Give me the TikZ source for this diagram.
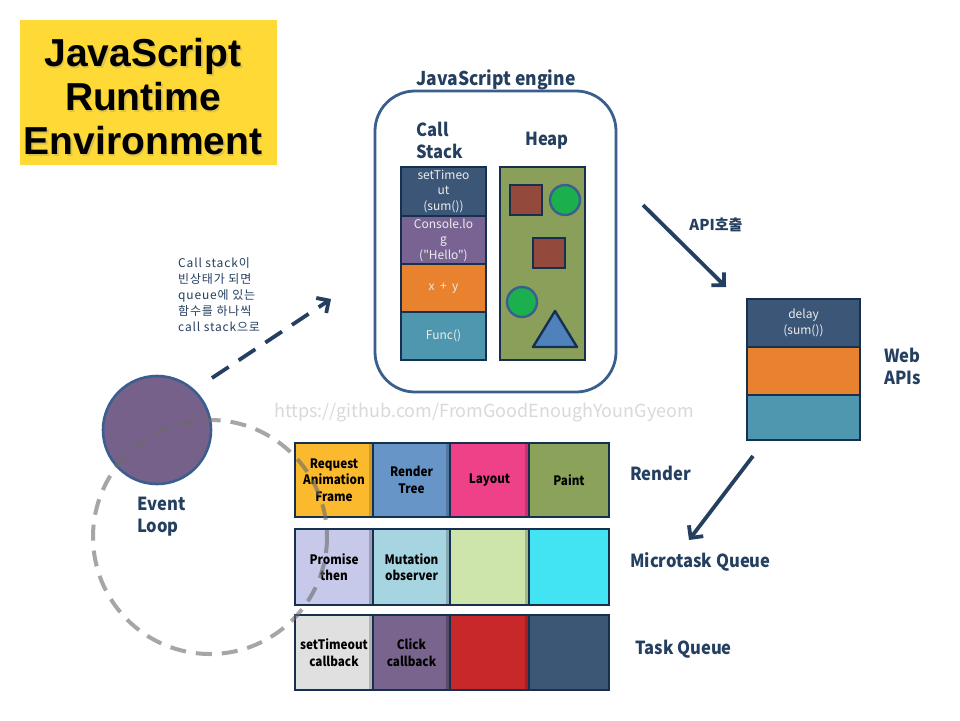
\documentclass[tikz,border=0pt]{standalone}
\usepackage{fontspec}
\usepackage{tikz}
\usetikzlibrary{arrows.meta,shapes.geometric}
\setmainfont{Noto Sans CJK KR}
\newfontfamily\titlefont{Liberation Sans}
\newfontfamily\krfont{Noto Sans CJK KR}
\newfontfamily\notefont[LetterSpace=7]{Noto Sans CJK KR}
\newfontfamily\lblfont[FakeStretch=0.92]{Noto Sans CJK KR}
\newfontfamily\cellfont[FakeStretch=0.9]{Noto Sans CJK KR}

\definecolor{labelnavy}{HTML}{243F60}
\definecolor{boxline}{HTML}{17304F}
\definecolor{engineline}{HTML}{3A5F8E}
\definecolor{titleyellow}{HTML}{FFD935}
\definecolor{stackblue}{HTML}{3C5677}
\definecolor{stackpurple}{HTML}{786393}
\definecolor{stackorange}{HTML}{E8822F}
\definecolor{stackteal}{HTML}{4F97AE}
\definecolor{heapgreen}{HTML}{8AA05A}
\definecolor{heapbrown}{HTML}{934A3D}
\definecolor{heapcircle}{HTML}{1BAF4E}
\definecolor{heaptri}{HTML}{4F81BD}
\definecolor{rafyellow}{HTML}{FBB92E}
\definecolor{treeblue}{HTML}{6795C7}
\definecolor{layoutpink}{HTML}{EE4187}
\definecolor{paintgreen}{HTML}{8BA25A}
\definecolor{promiselav}{HTML}{C7C9EB}
\definecolor{mutationblue}{HTML}{A6D4E1}
\definecolor{microgreen}{HTML}{CDE5AB}
\definecolor{microcyan}{HTML}{42E3F2}
\definecolor{taskgray}{HTML}{E0E0E0}
\definecolor{clickpurple}{HTML}{78648D}
\definecolor{taskred}{HTML}{C9282A}
\definecolor{taskblue}{HTML}{3C5676}
\definecolor{looppurple}{HTML}{76618A}
\definecolor{watermark}{HTML}{D9D9D9}

\tikzset{
	cellbox/.style={draw=boxline, line width=2.6pt, inner sep=0pt, align=center, text=black, font=\cellfont\bfseries\fontsize{13}{16.5}\selectfont},
	cellstrip/.style={path picture={\fill[#1] ([xshift=-4.5pt]path picture bounding box.north east) rectangle (path picture bounding box.south east);}},
	stackbox/.style={draw=boxline, line width=2.6pt, inner sep=0pt, align=center, text=white!93!black, font=\krfont\fontsize{12}{15.5}\selectfont, minimum width=85pt},
	navylabel/.style={text=labelnavy, font=\lblfont\bfseries\fontsize{18}{22}\selectfont, align=left, inner sep=0pt},
	callarrow/.style={draw=labelnavy, line width=3.8pt, -{Straight Barb[length=9pt,width=18pt]}},
	titletext/.style={font=\titlefont\bfseries\fontsize{39}{44}\selectfont, align=center},
}

\begin{document}
\begin{tikzpicture}[x=1pt, y=-1pt]
			%%%%% START %%%%%
			
			\useasboundingbox[fill=white] (0, 0) rectangle (960, 720);
			
			% title
			\fill[titleyellow] (20, 20) rectangle (277, 165);
			\node[titletext, text=black!45, opacity=0.3] (titleshadow) at (144.5, 98.5) {JavaScript\\Runtime\\Environment};
			\node[titletext] (title) at (143, 97) {JavaScript\\Runtime\\Environment};
			
			% engine
			\node[navylabel, font=\lblfont\bfseries\fontsize{19}{22}\selectfont] (enginelabel) at (496, 80) {JavaScript engine};
			\node[draw=engineline, line width=2.8pt, rounded corners=40pt, minimum width=241pt, minimum height=301pt] (engine) at (495.5, 241.5) {};
			\node[navylabel] (stacklabel) at (440, 140) {Call\\Stack};
			\node[navylabel] (heaplabel) at (547, 141) {Heap};
			
			\node[stackbox, fill=stackblue, minimum height=49pt] (stack1) at (443.5, 191.5) {setTimeo\\ut\\(sum())};
			\node[stackbox, fill=stackpurple, minimum height=48pt] (stack2) at (443.5, 240) {Console.lo\\g\\("Hello")};
			\node[stackbox, fill=stackorange, minimum height=48pt] (stack3) at (443.5, 288) {x \ + \ y};
			\node[stackbox, fill=stackteal, minimum height=48pt] (stack4) at (443.5, 336) {Func()};
			
			\node[draw=boxline, line width=2.6pt, fill=heapgreen, minimum width=85pt, minimum height=193pt] (heap) at (542.5, 263.5) {};
			\draw[line width=2.4pt, draw=boxline, fill=heapbrown] (510, 185) rectangle (542, 215);
			\draw[line width=2.4pt, draw=boxline, fill=heapbrown] (533, 238) rectangle (565, 268);
			\draw[line width=2.4pt, draw=engineline, fill=heapcircle] (565, 200) circle (15);
			\draw[line width=2.4pt, draw=engineline, fill=heapcircle] (522, 302) circle (15);
			\draw[line width=2.4pt, draw=boxline, fill=heaptri, line join=round] (533, 347) -- (577, 347) -- (555, 311) -- cycle;
			
			% web apis
			\node[stackbox, fill=stackblue, minimum width=113pt, minimum height=48pt] (web1) at (803.5, 323) {delay\\(sum())};
			\node[stackbox, fill=stackorange, minimum width=113pt, minimum height=48pt] (web2) at (803.5, 371) {};
			\node[stackbox, fill=stackteal, minimum width=113pt, minimum height=45pt] (web3) at (803.5, 417.5) {};
			\node[navylabel, anchor=west] (weblabel) at (884, 366) {Web\\APIs};
			
			\coordinate (apiFrom) at (643, 205);
			\coordinate (apiTo) at (726, 287);
			\draw[callarrow] (apiFrom) -- (apiTo);
			\node[text=labelnavy, font=\krfont\bfseries\fontsize{15}{18}\selectfont] (apilabel) at (716, 225) {API호출};
			
			\coordinate (webFrom) at (753, 456);
			\coordinate (webTo) at (689, 540);
			\draw[callarrow] (webFrom) -- (webTo);
			
			% render row
			\node[cellbox, fill=rafyellow, cellstrip=rafyellow!82!black, minimum width=78pt, minimum height=74pt] (raf) at (334, 480) {Request\\Animation\\Frame};
			\node[cellbox, fill=treeblue, cellstrip=treeblue!80!black, minimum width=77pt, minimum height=74pt] (tree) at (411.5, 480) {Render\\Tree};
			\node[cellbox, fill=layoutpink, cellstrip=layoutpink!82!black, minimum width=79pt, minimum height=74pt] (layout) at (489.5, 480) {Layout};
			\node[cellbox, fill=paintgreen, minimum width=80pt, minimum height=74pt] (paint) at (569, 480) {Paint};
			\node[navylabel, anchor=west] (renderlabel) at (630, 473) {Render};
			
			% microtask row
			\node[cellbox, fill=promiselav, cellstrip=promiselav!78!black, minimum width=78pt, minimum height=76pt] (promise) at (334, 567) {Promise\\then};
			\node[cellbox, fill=mutationblue, cellstrip=mutationblue!80!black, minimum width=77pt, minimum height=76pt] (mutation) at (411.5, 567) {Mutation\\observer};
			\node[cellbox, fill=microgreen, cellstrip=microgreen!80!black, minimum width=79pt, minimum height=76pt] (micro3) at (489.5, 567) {};
			\node[cellbox, fill=microcyan, minimum width=80pt, minimum height=76pt] (micro4) at (569, 567) {};
			\node[navylabel, anchor=west] (microlabel) at (630, 562) {Microtask Queue};
			
			% task row
			\node[cellbox, fill=taskgray, cellstrip=taskgray!80!black, minimum width=78pt, minimum height=75pt] (timeout) at (334, 652.5) {setTimeout\\callback};
			\node[cellbox, fill=clickpurple, cellstrip=clickpurple!75!black, minimum width=77pt, minimum height=75pt] (click) at (411.5, 652.5) {Click\\callback};
			\node[cellbox, fill=taskred, cellstrip=taskred!80!black, minimum width=79pt, minimum height=75pt] (task3) at (489.5, 652.5) {};
			\node[cellbox, fill=taskblue, minimum width=80pt, minimum height=75pt] (task4) at (569, 652.5) {};
			\node[navylabel, anchor=west] (tasklabel) at (635, 649) {Task Queue};
			
			% event loop
			\node[circle, draw=engineline, line width=2.6pt, fill=looppurple, minimum size=108pt, inner sep=0pt] (loop) at (157, 430) {};
			\node[navylabel, anchor=west] (looplabel) at (137, 517) {Event\\Loop};
			\node[anchor=north west, align=left, inner sep=0pt, text=labelnavy, font=\notefont\fontsize{12}{16}\selectfont] (note) at (178, 257) {Call stack이\\빈상태가 되면\\queue에 있는\\함수를 하나씩\\call stack으로};
			
			\coordinate (dashFrom) at (212, 378);
			\coordinate (dashTo) at (331, 299);
			\draw[callarrow, dash pattern=on 20pt off 12pt] (dashFrom) -- (dashTo);
			
			\node[text=watermark, font=\krfont\fontsize{18}{20}\selectfont] (mark) at (484, 413) {https://github.com/FromGoodEnoughYounGyeom};
			
			\draw[line width=4pt, draw=black!58, opacity=0.6, dash pattern=on 16pt off 10pt] (210, 537) circle (117);
			
			%%%%% END %%%%%
		\end{tikzpicture}
\end{document}
